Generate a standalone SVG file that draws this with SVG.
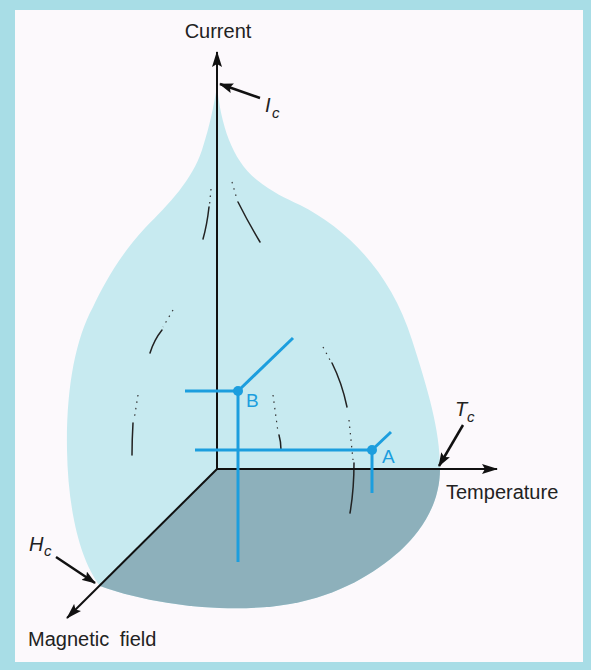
<svg xmlns="http://www.w3.org/2000/svg" width="591" height="670" viewBox="0 0 591 670">
<defs>
<marker id="ah" viewBox="0 0 16 10" refX="15" refY="5" markerWidth="16" markerHeight="10" markerUnits="userSpaceOnUse" orient="auto">
<path d="M0,0 L16,5 L0,10 L3,5 Z" fill="#111"/>
</marker>
<marker id="ahs" viewBox="0 0 14 10" refX="13" refY="5" markerWidth="14" markerHeight="10" markerUnits="userSpaceOnUse" orient="auto">
<path d="M0,0 L14,5 L0,10 L2.5,5 Z" fill="#111"/>
</marker>
<style>
.lbl{font-family:"Liberation Sans",Arial,sans-serif;font-size:20px;fill:#222}
.it{font-family:"Liberation Sans",Arial,sans-serif;font-style:italic;fill:#222}
.blt{font-family:"Liberation Sans",Arial,sans-serif;font-size:19px;fill:#1c9ede}
.axis{stroke:#111;stroke-width:2;fill:none}
.ptr{stroke:#111;stroke-width:2.5;fill:none}
.bl{stroke:#1c9ede;stroke-width:3;fill:none}
.mer{stroke:#222;stroke-width:1.5;fill:none;stroke-linecap:round}
.dot{stroke:#333;stroke-width:1.2;fill:none;stroke-dasharray:1.5 5}
</style>
</defs>
<rect x="0" y="0" width="591" height="670" fill="#a8dde6"/>
<rect x="15" y="10" width="568" height="652" fill="#fcf9fc"/>

<g id="surface">
<path d="M217,86 C221,125 232,160 257,180 C272,192 285,198 300,205 C345,228 390,270 412,340 C428,390 440,430 440,468 C440,500 425,528 400,551 C375,573 340,595 290,604 C240,613 160,608 100,586 C80,560 68,510 67,450 C66,390 75,340 93,307 C105,282 120,255 145,228 C170,203 192,180 202,150 C210,125 214,105 217,86 Z" fill="#c7eaf0"/>
<path d="M217,469 L440,469 C440,500 425,528 400,551 C375,573 340,595 290,604 C240,613 160,608 100,586 Z" fill="#8db0bb"/>
</g>

<g id="meridians">
<path class="dot" d="M211,189 L209.5,205"/>
<path class="mer" d="M209,207 Q207,225 203,239"/>
<path class="dot" d="M232,182 L236,196"/>
<path class="mer" d="M238,202 Q248,222 260,242"/>
<path class="dot" d="M173,310 L163,327"/>
<path class="mer" d="M162,330 Q154,340 150,353"/>
<path class="dot" d="M138,395 L134,420"/>
<path class="mer" d="M133,423 Q132,440 132,455"/>
<path class="dot" d="M323,347 L330,360"/>
<path class="mer" d="M332,363 Q342,383 347,407"/>
<path class="dot" d="M273,395 L278,432"/>
<path class="mer" d="M279,435 Q281,442 281,450"/>
<path class="dot" d="M349,420 L353,460"/>
<path class="mer" d="M354,463 Q354,490 350,513"/>
</g>

<g id="connectors">
<line id="current-axis" class="axis" x1="217" y1="469" x2="217" y2="52" marker-end="url(#ah)"/>
<line id="temperature-axis" class="axis" x1="217" y1="469" x2="497" y2="469" marker-end="url(#ah)"/>
<line id="field-axis" class="axis" x1="217" y1="469" x2="67" y2="618" marker-end="url(#ah)"/>
<line class="ptr" x1="260" y1="98" x2="220" y2="84" marker-end="url(#ahs)"/>
<line class="ptr" x1="463" y1="425" x2="439" y2="466" marker-end="url(#ahs)"/>
<line class="ptr" x1="56" y1="557" x2="95" y2="583" marker-end="url(#ahs)"/>
</g>

<g id="point-B">
<line class="bl" x1="185" y1="391" x2="238" y2="391"/>
<line class="bl" x1="238" y1="391" x2="293" y2="338"/>
<line class="bl" x1="238" y1="391" x2="238" y2="562"/>
<circle cx="238" cy="391" r="5" fill="#1c9ede"/>
<text class="blt" x="246" y="407">B</text>
</g>

<g id="point-A">
<line class="bl" x1="195" y1="450" x2="372" y2="450"/>
<line class="bl" x1="372" y1="450" x2="391" y2="432"/>
<line class="bl" x1="372" y1="450" x2="372" y2="493"/>
<circle cx="372" cy="450" r="5" fill="#1c9ede"/>
<text class="blt" x="382" y="463">A</text>
</g>

<g id="labels">
<text class="lbl" x="218" y="38" text-anchor="middle">Current</text>
<text class="lbl" x="446" y="499">Temperature</text>
<text class="lbl" x="28" y="646" word-spacing="5">Magnetic field</text>
<text class="it" x="265" y="112" font-size="20">I</text>
<text class="it" x="272" y="118" font-size="15">c</text>
<text class="it" x="455" y="416" font-size="20">T</text>
<text class="it" x="467" y="422" font-size="15">c</text>
<text class="it" x="29" y="551" font-size="20">H</text>
<text class="it" x="44" y="556" font-size="15">c</text>
</g>
</svg>
